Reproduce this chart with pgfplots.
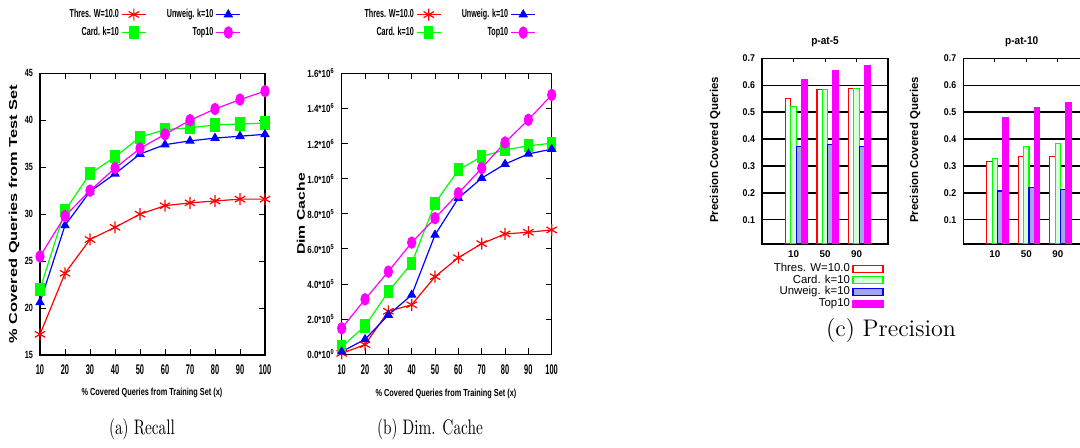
\documentclass[border=0pt]{standalone}
\usepackage{pgfplots}
\pgfplotsset{compat=1.18}
\usepackage{graphicx}
\usepackage{fontspec}
\newfontfamily\fxt{Liberation Sans}[FakeStretch=0.53]
\newfontfamily\fyt{Liberation Sans}[FakeStretch=0.7]
\newfontfamily\fytb{Liberation Sans}[FakeStretch=0.77]
\newfontfamily\fxl{Liberation Sans}[FakeStretch=0.72]
\newfontfamily\flg{Liberation Sans}[FakeStretch=0.62]
\newfontfamily\fbar{Liberation Sans}[FakeStretch=0.9]
\newfontfamily\fsans{Liberation Sans}

\definecolor{gpred}{RGB}{255,0,0}
\definecolor{gpgreen}{RGB}{0,255,0}
\definecolor{gpblue}{RGB}{0,0,255}
\definecolor{gpmag}{RGB}{255,0,255}
\definecolor{cardfill}{RGB}{215,255,215}
\definecolor{unwfill}{RGB}{165,165,240}

\pgfplotsset{
  lineaxis/.style={scale only axis, anchor=south west, clip=false,
    xmin=10, xmax=100, xtick={10,20,...,100},
    xticklabels={10,20,30,40,50,60,70,80,90,100},
    xticklabel style={font=\fxt\bfseries\fontsize{7}{8}\selectfont, yshift=-1.5pt},
    tick align=inside, major tick length=3pt,
    axis line style={line width=0.7pt}, tick style={black, line width=0.5pt},
    legend style={draw=none, fill=none, anchor=south, legend columns=2,
      font=\flg\bfseries\fontsize{5.8}{6}\selectfont, inner sep=0pt, row sep=3pt,
      nodes={inner xsep=1.2pt, inner ysep=0pt, text height=4.2pt, text depth=1.2pt},
      /tikz/every even column/.append style={column sep=9pt}},
    legend plot pos=right, legend cell align=right, transpose legend,
    legend image code/.code={\draw[mark repeat=2,mark phase=2,##1] plot coordinates {(0pt,0pt) (6pt,0pt) (12pt,0pt)};}},
  thres/.style={gpred, line width=0.6pt, mark=asterisk, mark size=3pt, mark options={solid}},
  card/.style={gpgreen, line width=0.6pt, mark=square*, mark size=3pt, mark options={solid, xscale=0.68}},
  unw/.style={gpblue, line width=0.6pt, mark=triangle*, mark size=2.2pt, mark options={solid}},
  top/.style={gpmag, line width=0.6pt, mark=*, mark size=2.8pt, mark options={solid, xscale=0.72}},
  baraxis/.style={scale only axis, anchor=south west, width=63pt, height=92.85pt,
    ybar=0pt, bar width=0.17,
    xmin=-0.085, xmax=3.915, xtick={0.915,1.915,2.915}, xticklabels={10,50,90},
    ymin=0.01, ymax=0.7, ytick={0.1,0.2,0.3,0.4,0.5,0.6,0.7},
    yticklabels={0.1,0.2,0.3,0.4,0.5,0.6,0.7},
    xticklabel style={font=\fsans\bfseries\fontsize{4.9}{5}\selectfont},
    yticklabel style={font=\fbar\bfseries\fontsize{4.9}{5}\selectfont},
    ymajorgrids, grid style={black, line width=0.65pt},
    tick align=inside, major tick length=2pt,
    axis line style={line width=0.75pt}, tick style={black, line width=0.5pt}},
  barlegend/.style={
    legend style={at={(0.968,-0.102)}, anchor=north east, draw=none, fill=none,
      font=\fsans\fontsize{5.7}{6}\selectfont, inner sep=0pt, row sep=0.55pt,
      nodes={inner xsep=1.2pt, inner ysep=0pt, text height=4.1pt, text depth=1.2pt}},
    legend plot pos=right, legend cell align=right,
    legend image code/.code={\draw[##1] (0pt,-1.75pt) rectangle (15pt,1.75pt);}},
  redbar/.style={draw=gpred, fill=white, line width=0.6pt},
  greenbar/.style={draw=gpgreen, fill=cardfill, line width=0.6pt},
  bluebar/.style={draw=gpblue, fill=unwfill, line width=0.6pt},
  magbar/.style={draw=gpmag, fill=gpmag, line width=0.6pt}
}

\begin{document}
\begin{tikzpicture}
\path[use as bounding box] (0pt,0pt) rectangle (540pt,224pt);
\clip (0pt,0pt) rectangle (540pt,224pt);

% (a) Recall
\begin{axis}[lineaxis, at={(20pt,46.5pt)}, width=112.5pt, height=140.85pt,
  ymin=15, ymax=45, ytick={15,20,25,30,35,40,45},
  yticklabels={15,20,25,30,35,40,45},
  yticklabel style={font=\fyt\bfseries\fontsize{5.2}{6}\selectfont},
  legend style={at={(0.507,1.122)}}]
\addplot[thres] coordinates {(10,17.2) (20,23.7) (30,27.3) (40,28.6) (50,30.0) (60,30.9) (70,31.2) (80,31.4) (90,31.6) (100,31.6)};
\addlegendentry{Thres. W=10.0}
\addplot[card] coordinates {(10,22.0) (20,30.4) (30,34.3) (40,36.1) (50,38.2) (60,39.0) (70,39.2) (80,39.5) (90,39.6) (100,39.7)};
\addlegendentry{Card. k=10}
\addplot[unw] coordinates {(10,20.6) (20,28.8) (30,32.4) (40,34.3) (50,36.4) (60,37.4) (70,37.8) (80,38.1) (90,38.3) (100,38.5)};
\addlegendentry{Unweig. k=10}
\addplot[top] coordinates {(10,25.5) (20,29.8) (30,32.5) (40,34.9) (50,37.0) (60,38.5) (70,40.0) (80,41.2) (90,42.2) (100,43.1)};
\addlegendentry{Top10}
\end{axis}

% (b) Dim. Cache (values in units of 10^5)
\begin{axis}[lineaxis, at={(170.85pt,46.85pt)}, width=105pt, height=140.5pt,
  ymin=0, ymax=16, ytick={0,2,4,6,8,10,12,14,16},
  yticklabels={0.0*10\textsuperscript{0},2.0*10\textsuperscript{5},4.0*10\textsuperscript{5},6.0*10\textsuperscript{5},8.0*10\textsuperscript{5},1.0*10\textsuperscript{6},1.2*10\textsuperscript{6},1.4*10\textsuperscript{6},1.6*10\textsuperscript{6}},
  yticklabel style={font=\fytb\bfseries\fontsize{5.2}{6}\selectfont},
  legend style={at={(0.511,1.122)}}]
\addplot[thres] coordinates {(10,0.05) (20,0.55) (30,2.45) (40,2.82) (50,4.42) (60,5.5) (70,6.3) (80,6.85) (90,6.95) (100,7.08)};
\addlegendentry{Thres. W=10.0}
\addplot[card] coordinates {(10,0.43) (20,1.61) (30,3.57) (40,5.18) (50,8.6) (60,10.5) (70,11.26) (80,11.64) (90,11.87) (100,12.02)};
\addlegendentry{Card. k=10}
\addplot[unw] coordinates {(10,0.15) (20,0.85) (30,2.24) (40,3.38) (50,6.8) (60,8.89) (70,10.03) (80,10.83) (90,11.41) (100,11.68)};
\addlegendentry{Unweig. k=10}
\addplot[top] coordinates {(10,1.48) (20,3.13) (30,4.71) (40,6.36) (50,7.75) (60,9.17) (70,10.6) (80,12.06) (90,13.35) (100,14.77)};
\addlegendentry{Top10}
\end{axis}

% (c) p-at-5
\begin{axis}[baraxis, barlegend, at={(381pt,102pt)}]
\addplot[redbar] coordinates {(1,0.55) (2,0.583) (3,0.589)};
\addlegendentry{Thres. W=10.0}
\addplot[greenbar] coordinates {(1,0.522) (2,0.583) (3,0.589)};
\addlegendentry{Card. k=10}
\addplot[bluebar] coordinates {(1,0.371) (2,0.381) (3,0.371)};
\addlegendentry{Unweig. k=10}
\addplot[magbar] coordinates {(1,0.62) (2,0.655) (3,0.674)};
\addlegendentry{Top10}
\end{axis}

% (c) p-at-10
\begin{axis}[baraxis, at={(481.65pt,102pt)}]
\addplot[redbar] coordinates {(1,0.316) (2,0.334) (3,0.334)};
\addplot[greenbar] coordinates {(1,0.328) (2,0.371) (3,0.384)};
\addplot[bluebar] coordinates {(1,0.207) (2,0.22) (3,0.213)};
\addplot[magbar] coordinates {(1,0.481) (2,0.517) (3,0.537)};
\end{axis}

\begin{scope}[x=0.5pt,y=0.5pt]
\node[rotate=90, font=\fsans\bfseries\fontsize{8.2}{9}\selectfont] at (14,448-214) {\scalebox{1}[0.7]{\% Covered Queries from Test Set}};
\node[font=\fxl\bfseries\fontsize{5.1}{6}\selectfont] at (152,448-393) {\% Covered Queries from Training Set (x)};
\node[font=\fontsize{10.5}{12}\selectfont] at (142,448-429) {\scalebox{0.73}[1]{(a) Recall}};
\node[rotate=90, font=\fsans\bfseries\fontsize{7.9}{9}\selectfont] at (301,448-214) {\scalebox{1}[0.7]{Dim Cache}};
\node[font=\fxl\bfseries\fontsize{5.1}{6}\selectfont] at (446,448-394) {\% Covered Queries from Training Set (x)};
\node[font=\fontsize{10.5}{12}\selectfont] at (430,448-429) {\scalebox{0.73}[1]{(b) Dim. Cache}};
\node[font=\fbar\bfseries\fontsize{5.6}{6}\selectfont] at (825,448-41.7) {p-at-5};
\node[font=\fbar\bfseries\fontsize{5.6}{6}\selectfont] at (1021.7,448-41.7) {p-at-10};
\node[rotate=90, font=\fsans\bfseries\fontsize{5.7}{6}\selectfont] at (715,448-150) {Precision Covered Queries};
\node[rotate=90, font=\fsans\bfseries\fontsize{5.7}{6}\selectfont] at (915,448-150) {Precision Covered Queries};
\node[font=\fontsize{12}{14}\selectfont] at (891,448-331) {(c) Precision};
\end{scope}
\end{tikzpicture}
\end{document}
